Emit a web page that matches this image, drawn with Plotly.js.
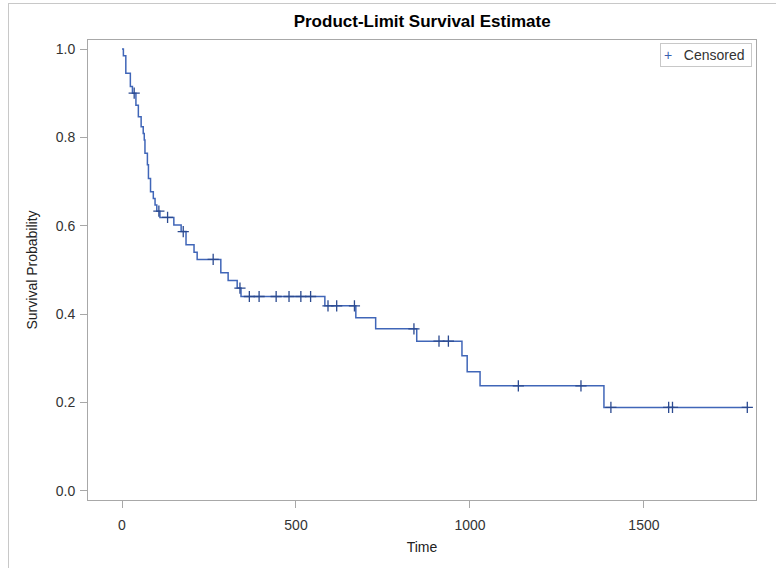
<!DOCTYPE html>
<html>
<head>
<meta charset="utf-8">
<script src="https://cdn.plot.ly/plotly-3.0.1.min.js"></script>
<style>
  html, body { margin: 0; padding: 0; background: #fff; }
  #wrap { position: relative; width: 776px; height: 568px; overflow: hidden; }
  #chart { position: absolute; left: 0; top: 0; width: 776px; height: 568px; }
  #frame { position: absolute; left: 8px; top: 3px; width: 800px; height: 600px;
           border-left: 1px solid #c8c8c8; border-top: 1px solid #c8c8c8; pointer-events: none; }
</style>
</head>
<body>
<div id="wrap">
  <div id="chart"></div>
  <div id="frame"></div>
</div>
<script>
// Kaplan-Meier step curve: event times and survival after each step
const stepTimes = [0, 4, 11, 24, 30, 40, 47, 55, 61, 64, 66, 73, 76, 82, 90, 95, 100, 109, 149, 170,
                   184, 207, 216, 284, 305, 331, 342, 583, 672, 729, 847, 977, 992, 1029, 1385, 1800];
const survival  = [1.0, 0.985, 0.945, 0.915, 0.90, 0.873, 0.847, 0.824, 0.809, 0.794, 0.764, 0.738, 0.707, 0.677, 0.662, 0.647, 0.633, 0.619, 0.602, 0.587,
                   0.557, 0.540, 0.524, 0.494, 0.476, 0.459, 0.440, 0.419, 0.392, 0.367, 0.339, 0.306, 0.270, 0.238, 0.189, 0.189];

// Censored observations
const censorTimes = [35, 106, 131, 176, 262, 339, 366, 394, 443, 480, 514, 542, 592, 617, 668, 839, 911, 938, 1139, 1319, 1405, 1571, 1582, 1797];
const censorSurv  = [0.90, 0.633, 0.619, 0.587, 0.524, 0.459, 0.440, 0.440, 0.440, 0.440, 0.440, 0.440, 0.419, 0.419, 0.419, 0.367, 0.339, 0.339, 0.238, 0.238, 0.189, 0.189, 0.189, 0.189];

const xTicks = [0, 500, 1000, 1500];
const yTicks = [0.0, 0.2, 0.4, 0.6, 0.8, 1.0];
const yTickText = ['0.0', '0.2', '0.4', '0.6', '0.8', '1.0'];

const lineColor = '#4066b8';
const markColor = '#2b4a90';
const axisColor = '#a8a8a8';

const traces = [
  {
    x: stepTimes, y: survival, type: 'scatter', mode: 'lines',
    line: { shape: 'hv', color: lineColor, width: 1.5 },
    showlegend: false, hoverinfo: 'skip'
  },
  {
    x: censorTimes, y: censorSurv, type: 'scatter', mode: 'markers',
    name: 'Censored', showlegend: false,
    marker: { symbol: 'cross-thin', size: 8, color: markColor, line: { color: markColor, width: 1.3 } }
  }
];

const layout = {
  width: 776, height: 568,
  paper_bgcolor: '#fff', plot_bgcolor: '#fff',
  margin: { l: 88, r: 20, t: 40, b: 68, pad: 0 },
  font: { family: 'Liberation Sans, Arial, sans-serif', size: 14, color: '#333' },
  title: {
    text: '<b>Product-Limit Survival Estimate</b>',
    font: { family: 'Liberation Sans, Arial, sans-serif', size: 17, color: '#000' },
    x: 0.544, xanchor: 'center', y: 0.963, yanchor: 'middle'
  },
  xaxis: {
    range: [-97.7, 1822], tickvals: xTicks, ticktext: xTicks.map(String),
    showgrid: false, zeroline: false,
    showline: true, linecolor: axisColor, linewidth: 1, mirror: true,
    ticks: 'outside', ticklen: 7, tickcolor: axisColor, tickwidth: 1,
    ticklabelstandoff: 5,
    tickfont: { size: 14, color: '#333' },
    title: { text: 'Time', font: { size: 14, color: '#222' }, standoff: 10 }
  },
  yaxis: {
    range: [-0.0204, 1.0204], tickvals: yTicks, ticktext: yTickText,
    showgrid: false, zeroline: false,
    showline: true, linecolor: axisColor, linewidth: 1, mirror: true,
    ticks: 'outside', ticklen: 7, tickcolor: axisColor, tickwidth: 1,
    ticklabelstandoff: 2,
    tickfont: { size: 14, color: '#333' },
    title: { text: 'Survival Probability', font: { size: 14, color: '#222' }, standoff: 14 }
  },
  annotations: [{
    xref: 'paper', yref: 'paper', x: 0.994, y: 0.993, xanchor: 'right', yanchor: 'top',
    text: '<span style="color:#3a5fb0">+</span>\u00a0\u00a0\u00a0Censored\u00a0',
    showarrow: false, align: 'left',
    font: { size: 14, color: '#333' },
    bgcolor: '#fff', bordercolor: '#c8c8c8', borderwidth: 1, borderpad: 3
  }],
  showlegend: false
};

Plotly.newPlot('chart', traces, layout, { displayModeBar: false, staticPlot: true });
</script>
</body>
</html>
